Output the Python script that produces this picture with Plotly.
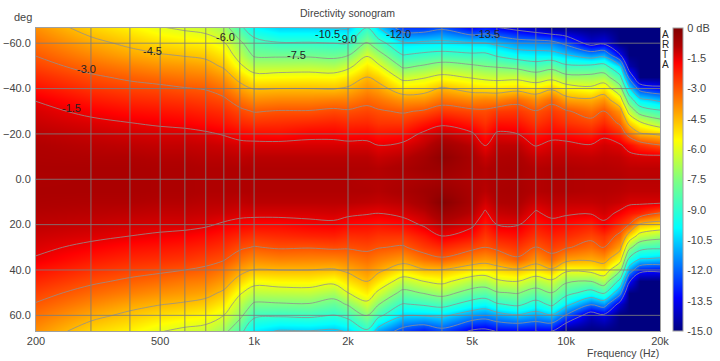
import plotly.graph_objects as go

frequencies = [200,300,400,500,600,700,800,900,1000,1200,1500,1800,2000,2300,2500,3000,3500,4000,5000,5500,6000,7000,8000,9000,10000,12000,13200,14900,15900,17200,20000]
angles = [-67,-60,-55,-50,-45,-40,-35,-30,-25,-20,-15,-10,-5,0,5,10,15,20,25,30,35,40,45,50,55,60,67]

# one list per frequency, ordered as in `angles` (dB)
levels_by_frequency = [
[-3.9,-3.4,-3.05,-2.7,-2.3,-1.92,-1.53,-1.3,-1.15,-1.0,-.9,-.85,-.8,-.85,-.8,-.85,-.95,-1.05,-1.2,-1.35,-1.55,-1.95,-2.3,-2.7,-3.05,-3.4,-3.9],
[-4.9,-4.23,-3.76,-3.3,-2.86,-2.46,-2.06,-1.66,-1.35,-1.15,-1.0,-.9,-.8,-.8,-.8,-.9,-1.0,-1.15,-1.35,-1.66,-2.05,-2.45,-2.85,-3.3,-3.75,-4.25,-4.95],
[-5.4,-4.7,-4.2,-3.65,-3.15,-2.7,-2.3,-1.9,-1.5,-1.25,-1.05,-.9,-.8,-.8,-.8,-.9,-1.05,-1.25,-1.5,-1.9,-2.3,-2.7,-3.15,-3.65,-4.2,-4.7,-5.4],
[-5.95,-5.05,-4.45,-3.9,-3.35,-2.8,-2.4,-2.0,-1.6,-1.3,-1.1,-.95,-.85,-.85,-.85,-.95,-1.1,-1.3,-1.6,-2.0,-2.4,-2.85,-3.35,-3.9,-4.45,-5.05,-5.95],
[-6.2,-5.25,-4.6,-4.0,-3.5,-2.95,-2.5,-2.1,-1.7,-1.3,-1.1,-.95,-.85,-.85,-.85,-.95,-1.1,-1.3,-1.7,-2.1,-2.5,-3.0,-3.55,-4.05,-4.6,-5.25,-6.25],
[-6.4,-5.4,-4.75,-4.15,-3.6,-3.05,-2.65,-2.25,-1.85,-1.4,-1.15,-1.0,-.9,-.9,-.9,-1.0,-1.15,-1.4,-1.85,-2.25,-2.7,-3.15,-3.65,-4.2,-4.8,-5.45,-6.4],
[-7.0,-5.9,-5.25,-4.65,-4.0,-3.4,-2.85,-2.4,-2.0,-1.55,-1.2,-1.0,-.9,-.9,-.9,-1.0,-1.2,-1.6,-2.05,-2.45,-2.9,-3.5,-4.05,-4.65,-5.3,-6.0,-7.1],
[-8.7,-7.2,-6.55,-5.8,-4.85,-4.1,-3.4,-2.8,-2.3,-1.75,-1.3,-1.05,-.9,-.9,-.9,-1.05,-1.3,-1.75,-2.3,-2.85,-3.45,-4.15,-4.9,-5.85,-6.6,-7.15,-8.6],
[-10.0,-8.45,-7.7,-6.65,-5.6,-4.55,-3.8,-3.05,-2.45,-1.85,-1.3,-1.0,-.9,-.9,-.9,-1.0,-1.3,-1.85,-2.45,-3.05,-3.8,-4.55,-5.6,-6.6,-7.65,-8.75,-10.1],
[-10.55,-8.9,-7.75,-6.65,-5.55,-4.5,-3.7,-2.95,-2.4,-1.9,-1.3,-1.0,-.9,-.9,-.9,-1.0,-1.3,-1.85,-2.35,-2.9,-3.65,-4.5,-5.45,-6.55,-7.6,-8.85,-10.6],
[-10.55,-8.9,-7.75,-6.6,-5.5,-4.5,-3.7,-2.95,-2.3,-1.7,-1.3,-1.0,-.9,-.9,-.9,-1.0,-1.3,-1.7,-2.25,-2.95,-3.7,-4.5,-5.4,-6.5,-7.55,-8.75,-10.55],
[-10.6,-9.0,-7.9,-6.75,-5.55,-4.55,-3.6,-2.8,-2.2,-1.7,-1.3,-1.0,-.9,-.9,-.9,-1.0,-1.25,-1.65,-2.2,-2.85,-3.7,-4.6,-5.7,-6.9,-8.0,-9.05,-10.7],
[-10.7,-9.0,-7.65,-6.3,-5.25,-4.35,-3.6,-2.9,-2.35,-1.85,-1.3,-1.0,-.9,-.9,-.9,-1.0,-1.35,-1.85,-2.4,-2.9,-3.6,-4.3,-5.1,-6.0,-7.35,-8.6,-10.4],
[-9.05,-7.35,-6.15,-5.25,-4.45,-3.85,-3.25,-2.75,-2.3,-1.8,-1.3,-1.0,-.9,-.95,-.9,-1.05,-1.45,-1.9,-2.35,-2.8,-3.35,-3.9,-4.5,-5.3,-6.25,-7.4,-9.2],
[-10.5,-8.4,-7.0,-5.8,-4.85,-4.1,-3.45,-2.9,-2.5,-2.0,-1.5,-1.15,-.95,-.95,-.95,-1.1,-1.5,-2.0,-2.5,-2.95,-3.6,-4.25,-5.15,-6.2,-7.4,-8.65,-11.1],
[-12.75,-10.3,-9.05,-7.75,-6.35,-5.1,-3.95,-3.1,-2.5,-1.9,-1.35,-1.0,-.8,-.9,-.8,-1.0,-1.3,-1.85,-2.5,-3.1,-4.0,-5.15,-6.55,-7.85,-9.05,-10.4,-12.5],
[-12.8,-10.2,-8.75,-7.4,-6.1,-4.95,-3.9,-2.9,-2.05,-1.35,-1.05,-.7,-.6,-.8,-.6,-.7,-1.05,-1.4,-2.05,-2.6,-3.4,-4.6,-6.0,-7.4,-8.8,-10.4,-13.1],
[-12.3,-10.15,-8.55,-7.0,-5.7,-4.35,-3.4,-2.55,-1.65,-1.1,-.6,-.3,-.5,-.7,-.45,-.15,-.55,-1.05,-1.5,-2.3,-3.1,-4.55,-5.7,-7.0,-8.5,-10.25,-12.4],
[-13.5,-10.4,-8.8,-7.35,-6.1,-4.9,-3.75,-2.8,-2.1,-1.4,-1.0,-.8,-.8,-.9,-.8,-.8,-1.0,-1.35,-1.95,-2.75,-3.75,-5.15,-6.65,-8.0,-9.55,-11.2,-13.7],
[-13.1,-10.45,-8.75,-7.55,-6.3,-5.0,-3.65,-2.85,-2.45,-2.0,-1.55,-1.15,-.95,-.95,-1.0,-1.25,-1.6,-2.1,-2.55,-3.0,-3.95,-5.3,-6.75,-8.2,-9.8,-11.45,-13.85],
[-13.5,-10.8,-9.25,-7.65,-6.4,-5.05,-3.7,-2.6,-1.95,-1.4,-1.05,-.9,-.8,-.85,-.8,-.9,-1.15,-1.5,-2.1,-2.75,-3.75,-4.95,-6.2,-7.6,-9.1,-11.05,-13.45],
[-14.0,-11.35,-9.85,-7.95,-6.35,-4.85,-3.3,-2.55,-2.0,-1.5,-1.05,-.85,-.75,-.8,-.75,-.85,-1.05,-1.45,-1.95,-2.5,-3.1,-4.65,-6.0,-7.4,-8.7,-10.6,-13.4],
[-14.5,-11.4,-10.0,-8.4,-6.8,-5.15,-3.85,-2.95,-2.5,-2.0,-1.55,-1.15,-.95,-.95,-.95,-1.2,-1.6,-2.05,-2.5,-3.05,-3.95,-5.15,-6.7,-8.05,-9.5,-11.05,-13.5],
[-15.0,-11.55,-10.05,-8.0,-6.4,-4.65,-3.25,-2.6,-2.15,-1.75,-1.3,-1.05,-.9,-.9,-.9,-1.05,-1.3,-1.75,-2.2,-2.65,-3.3,-4.65,-6.2,-7.5,-8.7,-10.6,-13.5],
[-15.0,-12.3,-10.5,-8.8,-7.05,-5.35,-4.1,-2.9,-2.45,-1.85,-1.3,-1.05,-.9,-.9,-.9,-1.1,-1.4,-1.9,-2.35,-2.9,-4.05,-5.75,-7.3,-8.55,-10.1,-12.1,-15.0],
[-15.0,-14.0,-11.3,-8.8,-7.05,-5.75,-4.3,-3.4,-2.75,-2.15,-1.45,-1.1,-.95,-.95,-.95,-1.1,-1.45,-2.2,-2.75,-3.35,-4.25,-5.6,-7.5,-9.5,-11.85,-14.2,-15.0],
[-15.0,-13.7,-11.0,-8.55,-6.85,-5.15,-3.9,-2.95,-2.35,-1.65,-1.25,-1.05,-.95,-.95,-.95,-1.05,-1.25,-1.65,-2.45,-2.95,-4.0,-5.2,-6.75,-8.75,-11.3,-13.7,-15.0],
[-15.0,-15.0,-13.5,-10.5,-8.65,-7.0,-5.4,-4.0,-3.2,-2.3,-1.4,-1.1,-1.0,-.95,-1.0,-1.15,-1.65,-2.45,-3.25,-4.15,-5.4,-7.25,-9.45,-11.55,-14.0,-15.0,-15.0],
[-15.0,-15.0,-15.0,-14.4,-12.2,-10.1,-8.2,-6.4,-4.8,-3.4,-1.85,-1.25,-1.05,-1.0,-1.05,-1.3,-2.0,-3.0,-5.05,-7.05,-9.1,-11.15,-13.3,-15.0,-15.0,-15.0,-15.0],
[-15.0,-15.0,-15.0,-15.0,-15.0,-12.45,-10.1,-8.1,-5.85,-4.35,-2.4,-1.3,-1.05,-1.0,-1.05,-1.3,-2.25,-4.65,-6.45,-8.45,-10.4,-13.0,-15.0,-15.0,-15.0,-15.0,-15.0],
[-15.0,-15.0,-15.0,-15.0,-15.0,-13.1,-10.8,-8.8,-6.9,-4.7,-2.95,-1.3,-1.05,-1.0,-1.05,-1.3,-3.05,-5.1,-7.0,-8.75,-10.65,-13.2,-15.0,-15.0,-15.0,-15.0,-15.0],
]

freq_tick_values = [200,500,1000,2000,5000,10000,20000]
freq_tick_labels = ["200","500","1k","2k","5k","10k","20k"]
freq_grid = [300,400,500,600,700,800,900,1000,2000,3000,4000,5000,6000,7000,8000,9000,10000]
angle_ticks = [-60,-40,-20,0,20,40,60]
cbar_values = [0,-1.5,-3,-4.5,-6,-7.5,-9,-10.5,-12,-13.5,-15]
cbar_labels = ["0 dB","-1.5","-3.0","-4.5","-6.0","-7.5","-9.0","-10.5","-12.0","-13.5","-15.0"]
contour_labels = [("-1.5",71,108),("-3.0",86,69),("-4.5",152,51),("-6.0",225,37),("-7.5",296,55),
                  ("-10.5",327,34),("-9.0",347,39),("-12.0",398,34),("-13.5",487,34)]

FONT = "Liberation Sans"
TXT = "#444444"
GRID = "rgba(125,125,125,0.85)"
L, R, T, B = 35.5, 660.0, 28.0, 331.0
W, H = 720, 361

jet = [[0,"#000080"],[0.11,"#0000ff"],[0.34,"#00ffff"],[0.5,"#80ff80"],[0.63,"#ffff00"],[0.885,"#ff0000"],[0.94,"#b00000"],[1,"#800000"]]

fig = go.Figure()
fig.add_trace(go.Heatmap(
    x=frequencies, y=angles, z=levels_by_frequency, transpose=True,
    colorscale=jet, zmin=-15, zmax=0, zsmooth="best",
    colorbar=dict(x=1.0208, xanchor="left", xpad=0, y=0.5, yanchor="middle", ypad=0, len=1, lenmode="fraction",
                  thickness=10, thicknessmode="pixels", outlinecolor="#a0a0a0", outlinewidth=1,
                  tickmode="array", tickvals=cbar_values, ticktext=cbar_labels,
                  ticks="outside", ticklen=2, tickcolor="rgba(0,0,0,0)",
                  tickfont=dict(family=FONT, size=11, color=TXT)),
    hoverinfo="skip",
))
fig.add_trace(go.Contour(
    x=frequencies, y=angles, z=levels_by_frequency, transpose=True,
    autocontour=False, contours=dict(start=-13.5, end=-1.5, size=1.5, coloring="none"),
    line=dict(color="#909090", width=0.8, smoothing=1), showscale=False, hoverinfo="skip",
))

shapes = []
for f in freq_grid:
    shapes.append(dict(type="line", xref="x", yref="paper", x0=f, x1=f, y0=0, y1=1, layer="above", line=dict(color=GRID, width=1)))
for a in angle_ticks:
    shapes.append(dict(type="line", xref="paper", yref="y", x0=0, x1=1, y0=a, y1=a, layer="above", line=dict(color=GRID, width=1)))

annotations = []
def px_text(text, x, y, size=11, xanchor="center", color=TXT, height=None):
    annotations.append(dict(text=text, xref="paper", yref="paper", x=(x-L)/(R-L), y=(B-y)/(B-T),
                            xanchor=xanchor, yanchor="middle", showarrow=False, borderpad=0, height=height,
                            font=dict(family=FONT, size=size, color=color)))
for t, x, y in contour_labels:
    px_text(t, x, y, size=11, color="#222222")
px_text("deg", 22, 17, size=11)
px_text("Directivity sonogram", 347, 13, size=10.5)
px_text("Frequency (Hz)", 660, 353, size=10.5, xanchor="right")
for t, y in zip("ARTA", [33.5, 44, 54, 64]):
    px_text(t, 665.5, y, size=10, color="#222222", height=8)

fig.update_layout(
    width=W, height=H, autosize=False, paper_bgcolor="white", plot_bgcolor="white",
    margin=dict(l=L, r=W-R, t=T, b=H-B, pad=0, autoexpand=False), showlegend=False,
    shapes=shapes, annotations=annotations,
    xaxis=dict(type="log", range=[2.30103, 4.30103], tickmode="array", tickvals=freq_tick_values, ticktext=freq_tick_labels,
               showgrid=False, zeroline=False, ticks="", showline=True, mirror=True, linecolor="#a0a0a0", linewidth=1,
               automargin=False, tickfont=dict(family=FONT, size=11, color=TXT)),
    yaxis=dict(range=[66.9,-66.7], tickmode="array", tickvals=angle_ticks, tickformat=".1f",
               showgrid=False, zeroline=False, ticks="outside", ticklen=2, tickcolor="rgba(0,0,0,0)",
               showline=True, mirror=True, linecolor="#a0a0a0", linewidth=1,
               automargin=False, tickfont=dict(family=FONT, size=11, color=TXT)),
)
fig.write_html("out.html", config={"displayModeBar": False},
               post_script="document.body.style.margin='0';document.body.style.overflow='hidden';")
